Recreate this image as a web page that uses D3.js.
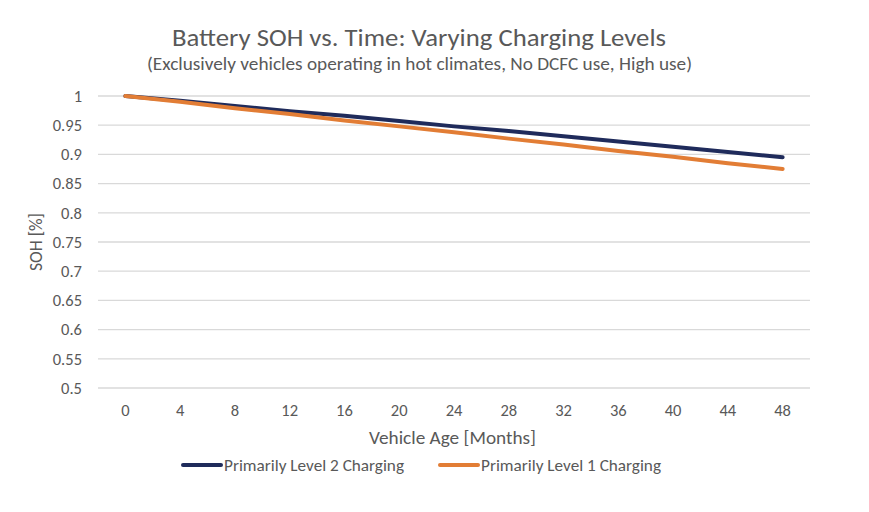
<!DOCTYPE html>
<html>
<head>
<meta charset="utf-8">
<script src="https://cdn.jsdelivr.net/npm/d3@7"></script>
<style>
  html, body { margin: 0; padding: 0; background: #fff; }
  svg { display: block; }
  text { font-family: Carlito, Calibri, Lato, "Open Sans", sans-serif; fill: #595959; }
</style>
</head>
<body>
<svg id="chart" width="869" height="512"></svg>
<script>
const months = [0, 4, 8, 12, 16, 20, 24, 28, 32, 36, 40, 44, 48];
const level2 = [1, 0.992, 0.983, 0.974, 0.966, 0.957, 0.948, 0.940, 0.931, 0.922, 0.913, 0.904, 0.895];
const level1 = [1, 0.990, 0.979, 0.969, 0.958, 0.948, 0.938, 0.927, 0.917, 0.906, 0.896, 0.885, 0.875];
const yTicks = [0.5, 0.55, 0.6, 0.65, 0.7, 0.75, 0.8, 0.85, 0.9, 0.95, 1];
const seriesNames = ["Primarily Level 2 Charging", "Primarily Level 1 Charging"];
const seriesColors = ["#1f2b5b", "#e27d35"];

const svg = d3.select("#chart");
const pLeft = 98, pRight = 810, pTop = 96, pBottom = 388;
const FONT = 'Carlito, Calibri, Lato, "Open Sans", sans-serif';

const x = d3.scaleBand().domain(months).range([pLeft, pRight]);
const y = d3.scaleLinear().domain([0.5, 1]).range([pBottom, pTop]);

function fitText(sel, len) {
  return sel.attr("textLength", len).attr("lengthAdjust", "spacingAndGlyphs");
}

// Title
fitText(svg.append("text").attr("x", 419).attr("y", 46).attr("text-anchor", "middle")
  .style("font-size", "25px").text("Battery SOH vs. Time: Varying Charging Levels"), 494);
fitText(svg.append("text").attr("x", 419.5).attr("y", 70).attr("text-anchor", "middle")
  .style("font-size", "18px").text("(Exclusively vehicles operating in hot climates, No DCFC use, High use)"), 545);

// Gridlines
svg.append("g").selectAll("line").data(yTicks).join("line")
  .attr("x1", pLeft).attr("x2", pRight)
  .attr("y1", d => y(d)).attr("y2", d => y(d))
  .attr("stroke", "#d9d9d9").attr("stroke-width", 1.3);

// Y axis
const yAxis = svg.append("g").attr("transform", `translate(${pLeft},0)`)
  .call(d3.axisLeft(y).tickValues(yTicks).tickSize(0).tickPadding(16).tickFormat(d => String(+d.toFixed(2))));
yAxis.select(".domain").remove();
yAxis.selectAll("text").style("font-size", "16.5px").style("fill", "#595959").style("font-family", FONT);

// X axis
const xAxis = svg.append("g").attr("transform", `translate(0,${pBottom})`)
  .call(d3.axisBottom(x).tickSize(0).tickPadding(16));
xAxis.select(".domain").remove();
xAxis.selectAll("text").style("font-size", "16.5px").style("fill", "#595959").style("font-family", FONT);

// Axis titles
fitText(svg.append("text").attr("x", 452.5).attr("y", 444).attr("text-anchor", "middle")
  .style("font-size", "18px").text("Vehicle Age [Months]"), 167);
fitText(svg.append("text").attr("transform", "translate(42,242) rotate(-90)").attr("text-anchor", "middle")
  .style("font-size", "18px").text("SOH [%]"), 58);

// Lines
const line = d3.line().x((d, i) => x(months[i]) + x.bandwidth() / 2).y(d => y(d));
[level2, level1].forEach((s, i) => {
  svg.append("path").datum(s).attr("d", line).attr("fill", "none")
    .attr("stroke", seriesColors[i]).attr("stroke-width", 4).attr("stroke-linecap", "round")
    .attr("stroke-linejoin", "round");
});

// Legend
const legendX = [183, 440];
seriesNames.forEach((n, i) => {
  svg.append("line").attr("x1", legendX[i]).attr("x2", legendX[i] + 38)
    .attr("y1", 465).attr("y2", 465).attr("stroke", seriesColors[i]).attr("stroke-width", 4)
    .attr("stroke-linecap", "round");
  fitText(svg.append("text").attr("x", legendX[i] + 41).attr("y", 471).style("font-size", "16.5px").text(n), 180);
});
</script>
</body>
</html>
